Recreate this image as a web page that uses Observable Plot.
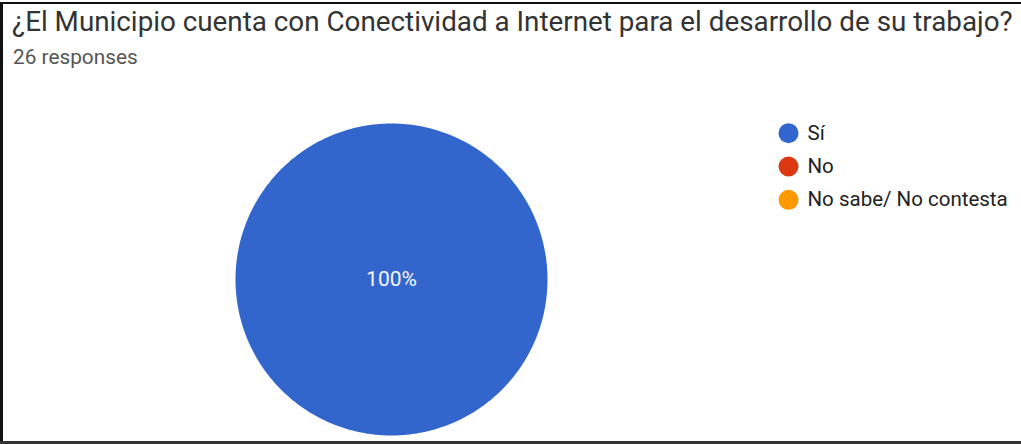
<!DOCTYPE html>
<html>
<head>
<meta charset="utf-8">
<script src="https://cdn.jsdelivr.net/npm/d3@7"></script>
<script src="https://cdn.jsdelivr.net/npm/@observablehq/plot@0.6"></script>
<style>
  html, body { margin: 0; padding: 0; background: #fff; }
  #wrap { position: relative; width: 1021px; height: 444px; overflow: hidden; background: #fff; font-family: Roboto, "Noto Sans", sans-serif; }
  .bl { position: absolute; background: #111; }
  #title { position: absolute; left: 12px; top: 8px; font-size: 27.8px; line-height: 1; color: #333; white-space: nowrap; }
  #sub { position: absolute; left: 13px; top: 47px; font-size: 20.8px; line-height: 1; color: #555; white-space: nowrap; }
  #pie, #legend { position: absolute; left: 0; top: 0; }
  #legend { left: 770px; top: 116px; }
</style>
</head>
<body>
<div id="wrap">
  <div id="title"></div>
  <div id="sub"></div>
  <div id="pie"></div>
  <div id="legend"></div>
  <div class="bl" style="left:0;top:2px;width:1021px;height:2px;"></div>
  <div class="bl" style="left:0;top:2px;width:3px;height:442px;"></div>
  <div class="bl" style="left:0;top:441px;width:1021px;height:3px;background:#333;"></div>
</div>
<script>
const titleText = "¿El Municipio cuenta con Conectividad a Internet para el desarrollo de su trabajo?";
const subtitleText = "26 responses";
const categories = ["Sí", "No", "No sabe/ No contesta"];
const values = [26, 0, 0];
const colors = ["#3366cc", "#dc3912", "#ff9900"];

document.getElementById("title").textContent = titleText;
document.getElementById("sub").textContent = subtitleText;

const total = d3.sum(values);
const arcs = d3.pie().sort(null).value(d => d.value)(categories.map((c, i) => ({cat: c, value: values[i]})));

// Build slice polygons (geometry only) from the pie angles
const poly = [];
const labels = [];
for (const a of arcs) {
  if (a.endAngle - a.startAngle <= 0) continue;
  const n = Math.max(2, Math.ceil((a.endAngle - a.startAngle) / 0.01));
  poly.push({cat: a.data.cat, x: 0, y: 0});
  for (let k = 0; k <= n; k++) {
    const t = a.startAngle + (a.endAngle - a.startAngle) * k / n;
    poly.push({cat: a.data.cat, x: Math.sin(t), y: Math.cos(t)});
  }
  poly.push({cat: a.data.cat, x: 0, y: 0});
  const full = a.endAngle - a.startAngle >= 2 * Math.PI - 1e-6;
  const mid = (a.startAngle + a.endAngle) / 2;
  labels.push({
    cat: a.data.cat,
    x: full ? 0 : 0.6 * Math.sin(mid),
    y: full ? 0 : 0.6 * Math.cos(mid),
    text: Math.round(a.data.value / total * 100) + "%"
  });
}

const color = {domain: categories, range: colors};

const pie = Plot.plot({
  width: 1021,
  height: 444,
  margin: 0,
  x: {domain: [-1, 1], range: [235, 547], axis: null},
  y: {domain: [-1, 1], range: [435, 123], axis: null},
  color,
  style: {background: "transparent", fontFamily: "Roboto, sans-serif", overflow: "visible"},
  marks: [
    Plot.line(poly, {x: "x", y: "y", z: "cat", fill: "cat", stroke: "none", curve: "linear"}),
    Plot.text(labels, {x: "x", y: "y", text: "text", fill: "#f4f6fb", fontSize: 21, dy: 0})
  ]
});
document.getElementById("pie").appendChild(pie);

const legend = Plot.plot({
  width: 251,
  height: 100,
  margin: 0,
  y: {type: "point", domain: categories, axis: null, padding: 0.5, round: false},
  color,
  style: {background: "transparent", fontFamily: "Roboto, sans-serif", overflow: "visible"},
  marks: [
    Plot.dot(categories, {y: d => d, fill: d => d, r: 10, frameAnchor: "left", dx: 18}),
    Plot.text(categories, {y: d => d, text: d => d, frameAnchor: "left", dx: 37, fill: "#222", fontSize: 20.5, textAnchor: "start"})
  ]
});
document.getElementById("legend").appendChild(legend);
</script>
</body>
</html>
